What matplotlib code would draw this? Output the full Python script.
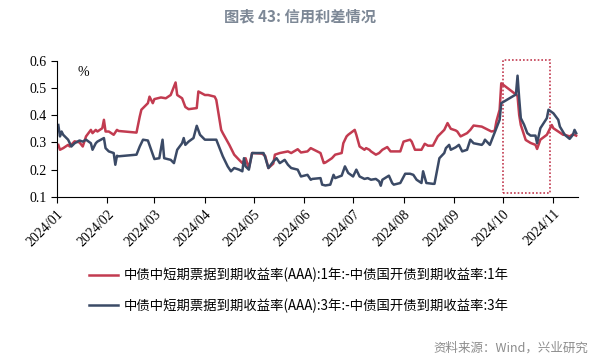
import pandas as pd
import matplotlib
matplotlib.use('Agg')
import matplotlib.pyplot as plt
import matplotlib.dates as mdates
from matplotlib.patches import Rectangle

# 1Y spread: 中债中短期票据(AAA):1年 - 中债国开债:1年
dates_1y = ['01-02', '01-03', '01-05', '01-08', '01-09', '01-12', '01-15', '01-17', '01-19', '01-22',
            '01-23', '01-25', '01-26', '01-29', '01-30', '01-31', '02-02', '02-05', '02-07', '02-08',
            '02-19', '02-21', '02-22', '02-26', '02-27', '02-29', '03-01', '03-05', '03-08', '03-11',
            '03-14', '03-15', '03-18', '03-20', '03-22', '03-27', '03-28', '04-01', '04-03', '04-07',
            '04-08', '04-11', '04-12', '04-16', '04-19', '04-22', '04-24', '04-26', '04-28', '04-30',
            '05-06', '05-08', '05-10', '05-13', '05-14', '05-17', '05-22', '05-24', '05-28', '05-30',
            '06-03', '06-05', '06-07', '06-11', '06-13', '06-14', '06-18', '06-20', '06-24', '06-25',
            '06-27', '06-28', '07-02', '07-03', '07-05', '07-08', '07-09', '07-11', '07-12', '07-15',
            '07-17', '07-19', '07-22', '07-24', '07-30', '08-01', '08-05', '08-06', '08-08', '08-12',
            '08-14', '08-16', '08-19', '08-22', '08-26', '08-28', '08-30', '09-02', '09-03', '09-05',
            '09-09', '09-11', '09-13', '09-18', '09-19', '09-23', '09-24', '09-26', '09-27', '09-29',
            '09-30', '10-09', '10-10', '10-11', '10-12', '10-15', '10-18', '10-21', '10-22', '10-24',
            '10-28', '10-31', '11-01', '11-04', '11-07', '11-08', '11-11', '11-13', '11-15']
spread_1y = [0.291, 0.273, 0.279, 0.291, 0.285, 0.304, 0.300, 0.285, 0.322, 0.346,
             0.334, 0.346, 0.340, 0.352, 0.383, 0.340, 0.340, 0.328, 0.346, 0.342,
             0.336, 0.395, 0.420, 0.444, 0.468, 0.444, 0.459, 0.465, 0.462, 0.474,
             0.520, 0.474, 0.462, 0.430, 0.422, 0.426, 0.487, 0.474, 0.474, 0.468,
             0.456, 0.346, 0.334, 0.291, 0.255, 0.236, 0.224, 0.242, 0.206, 0.261,
             0.259, 0.251, 0.206, 0.222, 0.255, 0.261, 0.267, 0.261, 0.275, 0.263,
             0.267, 0.279, 0.273, 0.261, 0.224, 0.226, 0.242, 0.255, 0.261, 0.297,
             0.322, 0.328, 0.346, 0.328, 0.285, 0.273, 0.279, 0.273, 0.267, 0.255,
             0.261, 0.273, 0.283, 0.267, 0.267, 0.303, 0.310, 0.303, 0.273, 0.273,
             0.295, 0.288, 0.288, 0.322, 0.346, 0.371, 0.350, 0.344, 0.340, 0.322,
             0.334, 0.346, 0.362, 0.358, 0.355, 0.343, 0.340, 0.343, 0.377, 0.420,
             0.517, 0.476, 0.470, 0.401, 0.364, 0.309, 0.298, 0.291, 0.276, 0.310,
             0.328, 0.364, 0.352, 0.340, 0.328, 0.328, 0.322, 0.330, 0.325]

# 3Y spread: 中债中短期票据(AAA):3年 - 中债国开债:3年
dates_3y = ['01-02', '01-03', '01-04', '01-05', '01-08', '01-10', '01-12', '01-15', '01-17', '01-19',
            '01-22', '01-23', '01-25', '01-26', '01-30', '01-31', '02-02', '02-05', '02-06', '02-07',
            '02-08', '02-19', '02-21', '02-23', '02-26', '02-28', '03-01', '03-04', '03-06', '03-07',
            '03-11', '03-13', '03-15', '03-18', '03-19', '03-20', '03-22', '03-25', '03-27', '03-29',
            '04-01', '04-08', '04-10', '04-12', '04-15', '04-17', '04-19', '04-22', '04-24', '04-25',
            '04-26', '04-28', '04-30', '05-07', '05-08', '05-10', '05-13', '05-15', '05-17', '05-20',
            '05-22', '05-24', '05-28', '05-30', '06-03', '06-05', '06-06', '06-11', '06-12', '06-14',
            '06-17', '06-19', '06-20', '06-24', '06-26', '06-28', '07-01', '07-03', '07-05', '07-08',
            '07-10', '07-12', '07-15', '07-17', '07-18', '07-19', '07-23', '07-25', '07-26', '07-30',
            '08-02', '08-05', '08-07', '08-09', '08-12', '08-13', '08-15', '08-19', '08-20', '08-22',
            '08-23', '08-26', '08-27', '08-29', '08-30', '09-02', '09-04', '09-06', '09-09', '09-11',
            '09-13', '09-18', '09-19', '09-20', '09-23', '09-25', '09-27', '09-29', '09-30', '10-09',
            '10-10', '10-11', '10-12', '10-14', '10-16', '10-18', '10-21', '10-22', '10-24', '10-28',
            '10-29', '11-01', '11-04', '11-05', '11-08', '11-11', '11-13', '11-14', '11-15']
spread_3y = [0.364, 0.322, 0.340, 0.328, 0.310, 0.285, 0.297, 0.307, 0.303, 0.310,
             0.297, 0.273, 0.297, 0.303, 0.316, 0.279, 0.267, 0.261, 0.218, 0.251,
             0.249, 0.255, 0.285, 0.310, 0.307, 0.273, 0.239, 0.242, 0.310, 0.242,
             0.236, 0.224, 0.273, 0.297, 0.316, 0.291, 0.303, 0.316, 0.361, 0.328,
             0.310, 0.310, 0.279, 0.249, 0.212, 0.194, 0.206, 0.200, 0.194, 0.242,
             0.212, 0.200, 0.261, 0.261, 0.246, 0.206, 0.230, 0.242, 0.224, 0.236,
             0.218, 0.206, 0.200, 0.175, 0.181, 0.163, 0.166, 0.169, 0.145, 0.142,
             0.145, 0.181, 0.169, 0.178, 0.212, 0.188, 0.175, 0.200, 0.175, 0.166,
             0.169, 0.163, 0.166, 0.157, 0.141, 0.163, 0.178, 0.151, 0.145, 0.151,
             0.185, 0.185, 0.181, 0.163, 0.151, 0.194, 0.151, 0.148, 0.148, 0.212,
             0.242, 0.261, 0.279, 0.291, 0.273, 0.282, 0.291, 0.267, 0.273, 0.310,
             0.297, 0.291, 0.297, 0.310, 0.291, 0.322, 0.352, 0.383, 0.444, 0.476,
             0.545, 0.462, 0.389, 0.365, 0.334, 0.325, 0.325, 0.297, 0.352, 0.389,
             0.420, 0.407, 0.383, 0.358, 0.328, 0.313, 0.328, 0.346, 0.334]

labels = ['中债中短期票据到期收益率(AAA):1年:-中债国开债到期收益率:1年',
          '中债中短期票据到期收益率(AAA):3年:-中债国开债到期收益率:3年']
box_start, box_end = '2024-10-01', '2024-10-30'
box_low, box_high = 0.113, 0.604

red = '#C23B50'
navy = '#3B4A66'

x1 = pd.to_datetime(['2024-' + d for d in dates_1y])
x3 = pd.to_datetime(['2024-' + d for d in dates_3y])

fig = plt.figure(figsize=(6, 3.58), dpi=100)
ax = fig.add_axes([0.0945, 0.45, 0.8685, 0.3805])

l1, = ax.plot(x1, spread_1y, color=red, lw=1.8, label=labels[0])
l3, = ax.plot(x3, spread_3y, color=navy, lw=1.8, label=labels[1])

b0 = mdates.date2num(pd.Timestamp(box_start))
b1 = mdates.date2num(pd.Timestamp(box_end))
ax.add_patch(Rectangle((b0, box_low), b1 - b0, box_high - box_low, fill=False,
                       edgecolor=red, lw=1.2, ls=(0, (1, 1.2)), clip_on=False))

ax.set_xlim(pd.Timestamp('2024-01-01'), pd.Timestamp('2024-11-16'))
ax.set_ylim(0.1, 0.6)
ax.set_yticks([0.1, 0.2, 0.3, 0.4, 0.5, 0.6])
ax.set_yticklabels(['0.1', '0.2', '0.3', '0.4', '0.5', '0.6'])
ax.xaxis.set_major_locator(mdates.MonthLocator(bymonth=range(1, 12)))
ax.xaxis.set_major_formatter(mdates.DateFormatter('%Y/%m'))
for lab in ax.get_xticklabels():
    lab.set_rotation(45)
    lab.set_ha('right')
    lab.set_rotation_mode('anchor')
ax.tick_params(labelsize=10, length=4, width=0.8, color='black')
for lab in ax.get_xticklabels() + ax.get_yticklabels():
    lab.set_family('Liberation Serif')
for s in ['top', 'right']:
    ax.spines[s].set_visible(False)
for s in ['left', 'bottom']:
    ax.spines[s].set_linewidth(0.8)
ax.text(0.04, 0.96, '%', transform=ax.transAxes, fontsize=10, va='top', family='Liberation Serif')

fig.text(0.5, 0.955, '图表 43: 信用利差情况', ha='center', va='center', fontsize=11,
         color='#7D8896', fontweight='bold', family=['Noto Sans CJK SC', 'DejaVu Sans'])
fig.legend(handles=[l1, l3], loc='upper left', bbox_to_anchor=(0.128, 0.285), frameon=False,
           handlelength=2.2, handletextpad=0.45, labelspacing=1.2,
           prop={'family': ['Noto Sans CJK SC', 'DejaVu Sans'], 'size': 9.6})
fig.text(0.98, 0.028, '资料来源：Wind，兴业研究', ha='right', va='center', fontsize=9,
         color='#8C8C8C', family=['Noto Sans CJK SC', 'DejaVu Sans'])

fig.savefig('out.png', dpi=100)
